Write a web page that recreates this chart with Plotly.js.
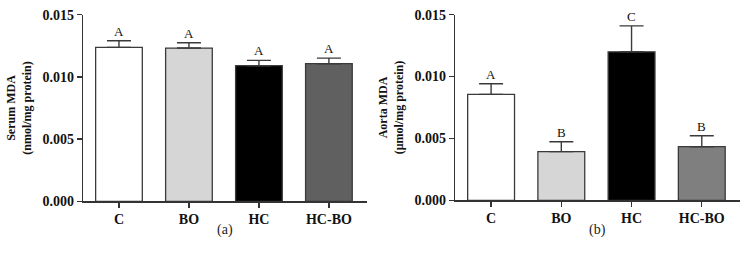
<!DOCTYPE html>
<html><head><meta charset="utf-8">
<script src="https://cdn.plot.ly/plotly-3.0.1.min.js"></script>
<style>html,body{margin:0;padding:0;background:#fff}#chart{width:746px;height:266px}</style>
</head><body><div id="chart"></div>
<script>
const categories = ["C", "BO", "HC", "HC-BO"];
const serumMDA = [0.01237, 0.01232, 0.01090, 0.01106];
const serumErr = [0.00053, 0.00042, 0.00043, 0.00045];
const serumLetters = ["A", "A", "A", "A"];
const aortaMDA = [0.00856, 0.00393, 0.01200, 0.00433];
const aortaErr = [0.00086, 0.00080, 0.00210, 0.00089];
const aortaLetters = ["A", "B", "C", "B"];
const yTicks = [0, 0.005, 0.010, 0.015];
const yTickText = ["0.000", "0.005", "0.010", "0.015"];
const serumColors = ["#ffffff", "#d6d6d6", "#000000", "#606060"];
const aortaColors = ["#ffffff", "#d6d6d6", "#000000", "#7f7f7f"];

const W = 746, H = 266;
const serif = "Liberation Serif, Times New Roman, serif";
const zeros = categories.map(() => 0);

function bar(vals, errs, colors, xa, ya) {
  return {
    type: "bar", x: categories, y: vals, xaxis: xa, yaxis: ya, width: 0.667,
    marker: {color: colors, line: {color: "#3a3a3a", width: 1.3}},
    error_y: {type: "data", array: errs, arrayminus: zeros, symmetric: false,
              color: "#3a3a3a", thickness: 1.4, width: 12},
    showlegend: false, hoverinfo: "skip"
  };
}

const traces = [
  bar(serumMDA, serumErr, serumColors, "x", "y"),
  bar(aortaMDA, aortaErr, aortaColors, "x2", "y2")
];

const annotations = [];
categories.forEach((c, i) => {
  annotations.push({xref: "x", yref: "y", x: c, y: serumMDA[i] + serumErr[i], text: serumLetters[i],
    showarrow: false, yanchor: "bottom", yshift: 0, font: {family: serif, size: 13, color: "#111"}});
  annotations.push({xref: "x2", yref: "y2", x: c, y: aortaMDA[i] + aortaErr[i], text: aortaLetters[i],
    showarrow: false, yanchor: "bottom", yshift: 0, font: {family: serif, size: 13, color: "#111"}});
});
annotations.push({xref: "paper", yref: "paper", x: (83 + 366.7) / 2 / W, y: (H - 230) / H, text: "(a)",
  showarrow: false, yanchor: "middle", xanchor: "center", font: {family: serif, size: 14, color: "#222"}});
annotations.push({xref: "paper", yref: "paper", x: (455 + 739.7) / 2 / W, y: (H - 230) / H, text: "(b)",
  showarrow: false, yanchor: "middle", xanchor: "center", font: {family: serif, size: 14, color: "#222"}});

function xax(domain, anchor) {
  return {domain: domain, anchor: anchor, type: "category", range: [-0.514, 3.54],
    showline: true, linecolor: "#333", linewidth: 1.3, ticks: "outside", ticklen: 5, tickwidth: 1.3,
    tickcolor: "#333", showgrid: false, zeroline: false, fixedrange: true,
    tickfont: {family: serif, size: 14, color: "#111", weight: "bold"}};
}
function yax(domain, anchor, title) {
  return {domain: domain, anchor: anchor, range: [0, 0.015], tickvals: yTicks, ticktext: yTickText,
    showline: true, linecolor: "#333", linewidth: 1.3, ticks: "outside", ticklen: 5, tickwidth: 1.3,
    tickcolor: "#333", showgrid: false, zeroline: false, fixedrange: true,
    tickfont: {family: serif, size: 14, color: "#111", weight: "bold"},
    title: {text: title, standoff: 8, font: {family: serif, size: 12, color: "#111", weight: "bold"}}};
}

const layout = {
  width: W, height: H, margin: {l: 0, r: 0, t: 0, b: 0},
  paper_bgcolor: "#fff", plot_bgcolor: "#fff", bargap: 0.333,
  xaxis: xax([83 / W, 366.7 / W], "y"),
  yaxis: yax([(H - 201.3) / H, (H - 14.7) / H], "x", "Serum MDA<br>(nmol/mg protein)"),
  xaxis2: xax([455 / W, 739.7 / W], "y2"),
  yaxis2: yax([(H - 200.3) / H, (H - 14.7) / H], "x2", "Aorta MDA<br>(μmol/mg protein)"),
  annotations: annotations
};

Plotly.newPlot("chart", traces, layout, {staticPlot: true, displayModeBar: false});
</script></body></html>
